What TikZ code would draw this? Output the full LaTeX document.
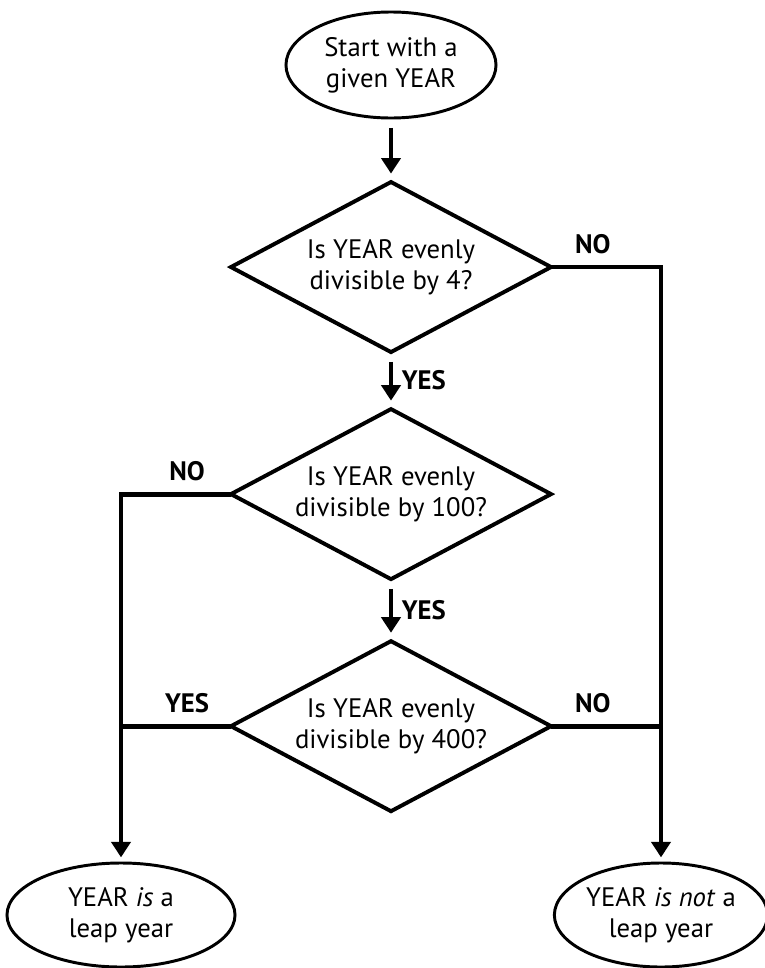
\documentclass[tikz,border=0pt]{standalone}
\usepackage{fontspec}
\setmainfont{PT Sans}
\usetikzlibrary{positioning, shapes.geometric, arrows.meta}

\begin{document}
\begin{tikzpicture}[
        x=0.025cm, y=-0.025cm,
        node distance=1.5cm,
        font=\fontsize{19}{22}\selectfont,
        terminal/.style={ellipse, draw, line width=2.1pt, minimum height=2.6cm, inner sep=0pt, outer sep=0pt, align=center},
        decision/.style={diamond, draw, aspect=1.88, line width=2.8pt, minimum width=8cm, minimum height=4.25cm, inner sep=0pt, outer sep=0pt, align=center},
        link/.style={line width=3.4pt},
        arrow/.style={link, -{Triangle[length=11pt, width=13.5pt]}, shorten >=6pt, shorten <=7pt},
        lbl/.style={font=\fontsize{19}{22}\selectfont\bfseries, inner sep=2pt}
    ]

    \useasboundingbox (0,0) rectangle (764,968);

    \node (start) [terminal, minimum width=5.25cm, minimum height=2.65cm] at (391,65) {Start with a\\given YEAR};
    \node (div4) [decision, below=1.6cm of start] {Is YEAR evenly\\divisible by 4?};
    \node (div100) [decision, below=1.425cm of div4] {Is YEAR evenly\\divisible by 100?};
    \node (div400) [decision, below=1.55cm of div100] {Is YEAR evenly\\divisible by 400?};

    \node (leap) [terminal, minimum width=5.7cm] at (121,915) {YEAR \emph{is} a\\leap year};
    \node (notleap) [terminal, minimum width=5.33cm] at (661,915) {YEAR \emph{is not} a\\leap year};

    \draw [arrow] (start) -- (div4);
    \draw [arrow] (div4) -- node[lbl, right=4pt] {YES} (div100);
    \draw [arrow] (div100) -- node[lbl, right=4pt] {YES} (div400);

    \draw [arrow, shorten <=0pt, shorten >=4pt] (div4.east) -| node[lbl, pos=0.19, above=6pt] {NO} (notleap.north);
    \draw [arrow, shorten <=0pt, shorten >=4pt] (div100.west) -| node[lbl, pos=0.2, above=6pt] {NO} (leap.north);
    \draw [link] (div400.west) -- node[lbl, pos=0.4, above=6pt] {YES} (div400.west -| leap.north);
    \draw [link] (div400.east) -- node[lbl, pos=0.38, above=6pt] {NO} (div400.east -| notleap.north);

\end{tikzpicture}
\end{document}
